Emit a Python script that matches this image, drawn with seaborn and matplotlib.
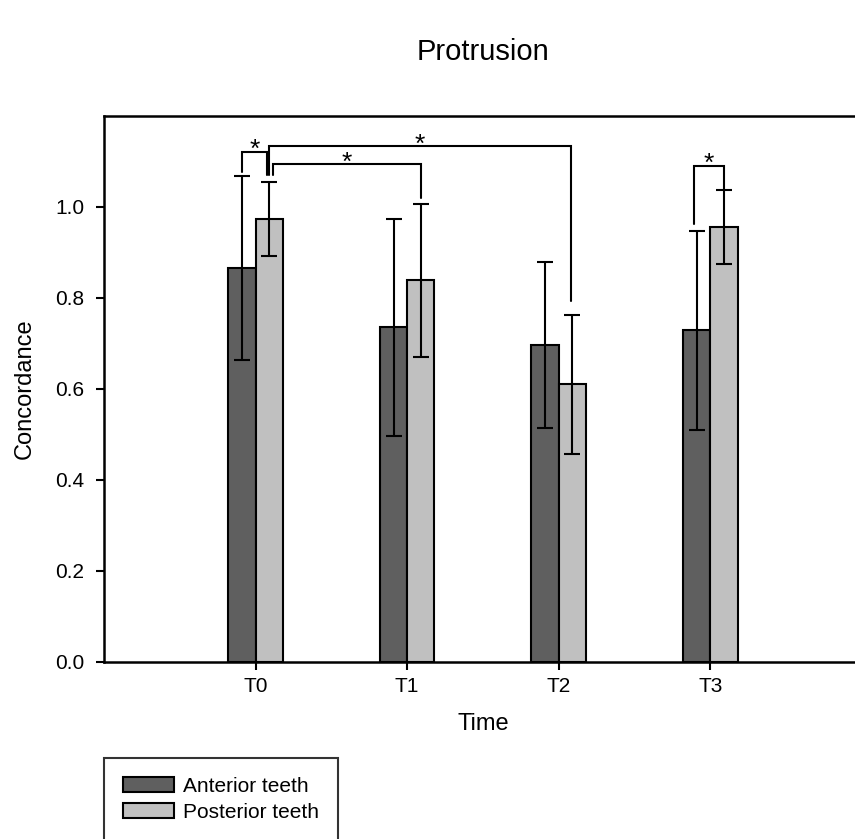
import numpy as np
import pandas as pd
import matplotlib
matplotlib.use("Agg")
import matplotlib.pyplot as plt
import seaborn as sns

# ---- data ----
times = ["T0", "T1", "T2", "T3"]
groups = ["Anterior teeth", "Posterior teeth"]
anterior_mean = [0.866, 0.735, 0.696, 0.728]
anterior_sd = [0.202, 0.238, 0.182, 0.219]
posterior_mean = [0.973, 0.838, 0.610, 0.955]
posterior_sd = [0.081, 0.168, 0.153, 0.081]
yticks = [0.0, 0.2, 0.4, 0.6, 0.8, 1.0]
# significance brackets: (x_left, x_right, y_left_bottom, y_top, y_right_bottom)
brackets = [
    (-0.09, 0.075, 1.076, 1.121, 1.070),
    (0.09, 2.08, 1.070, 1.133, 0.793),
    (0.117, 1.09, 1.070, 1.093, 1.020),
    (2.89, 3.09, 0.961, 1.090, 1.036),
]

sns.set_style("white")
plt.rcParams["font.family"] = ["Liberation Sans", "DejaVu Sans"]
plt.rcParams["text.color"] = "black"
plt.rcParams["axes.labelcolor"] = "black"

df = pd.DataFrame({
    "Time": times * 2,
    "Group": [groups[0]] * 4 + [groups[1]] * 4,
    "Concordance": anterior_mean + posterior_mean,
})

fig = plt.figure(figsize=(8.55, 8.39), dpi=100)
ax = fig.add_axes([0.1216, 0.2113, 0.8865, 0.6508])

sns.barplot(data=df, x="Time", y="Concordance", hue="Group",
            palette=["#5f5f5f", "#c0c0c0"], saturation=1, width=0.36,
            errorbar=None, edgecolor="black", linewidth=1.5, ax=ax)

sds = [anterior_sd, posterior_sd]
for cont, sd in zip(ax.containers, sds):
    xs = [b.get_x() + b.get_width() / 2 for b in cont]
    ys = [b.get_height() for b in cont]
    ax.errorbar(xs, ys, yerr=sd, fmt="none", ecolor="black",
                elinewidth=1.5, capsize=6, capthick=1.5, zorder=5)

for (x1, x2, yl, yt, yr) in brackets:
    ax.plot([x1, x1, x2, x2], [yl, yt, yt, yr], color="black", lw=1.5,
            solid_joinstyle="miter", zorder=6)
    ax.text((x1 + x2) / 2, yt - 0.012, "*", ha="center", va="baseline",
            fontsize=19, color="black", zorder=7)

ax.set_xlim(-1, 4)
ax.set_ylim(0, 1.2)
ax.set_yticks(yticks)
ax.set_yticklabels([f"{v:.1f}" for v in yticks])
ax.tick_params(axis="both", direction="out", length=6, width=1.5,
               labelsize=15, colors="black", pad=5)
ax.tick_params(axis="y", pad=8)
ax.tick_params(axis="both", bottom=True, left=True)
for s in ax.spines.values():
    s.set_linewidth(1.8)
    s.set_color("black")
ax.set_xlabel("Time", fontsize=17, labelpad=12)
ax.set_ylabel("Concordance", fontsize=17, labelpad=14)
ax.set_title("Protrusion", fontsize=21, pad=40, color="black")

h, l = ax.get_legend_handles_labels()
ax.get_legend().remove()
leg = ax.legend(h, l, loc="upper left", bbox_to_anchor=(0.1216, 0.0965),
                bbox_transform=fig.transFigure, frameon=True, fancybox=False,
                edgecolor="black", fontsize=15, handlelength=2.45,
                handleheight=0.75, handletextpad=0.45, borderpad=0.9,
                labelspacing=0.35, borderaxespad=0)
leg.get_frame().set_linewidth(1.5)

fig.savefig("out.png", dpi=100)
